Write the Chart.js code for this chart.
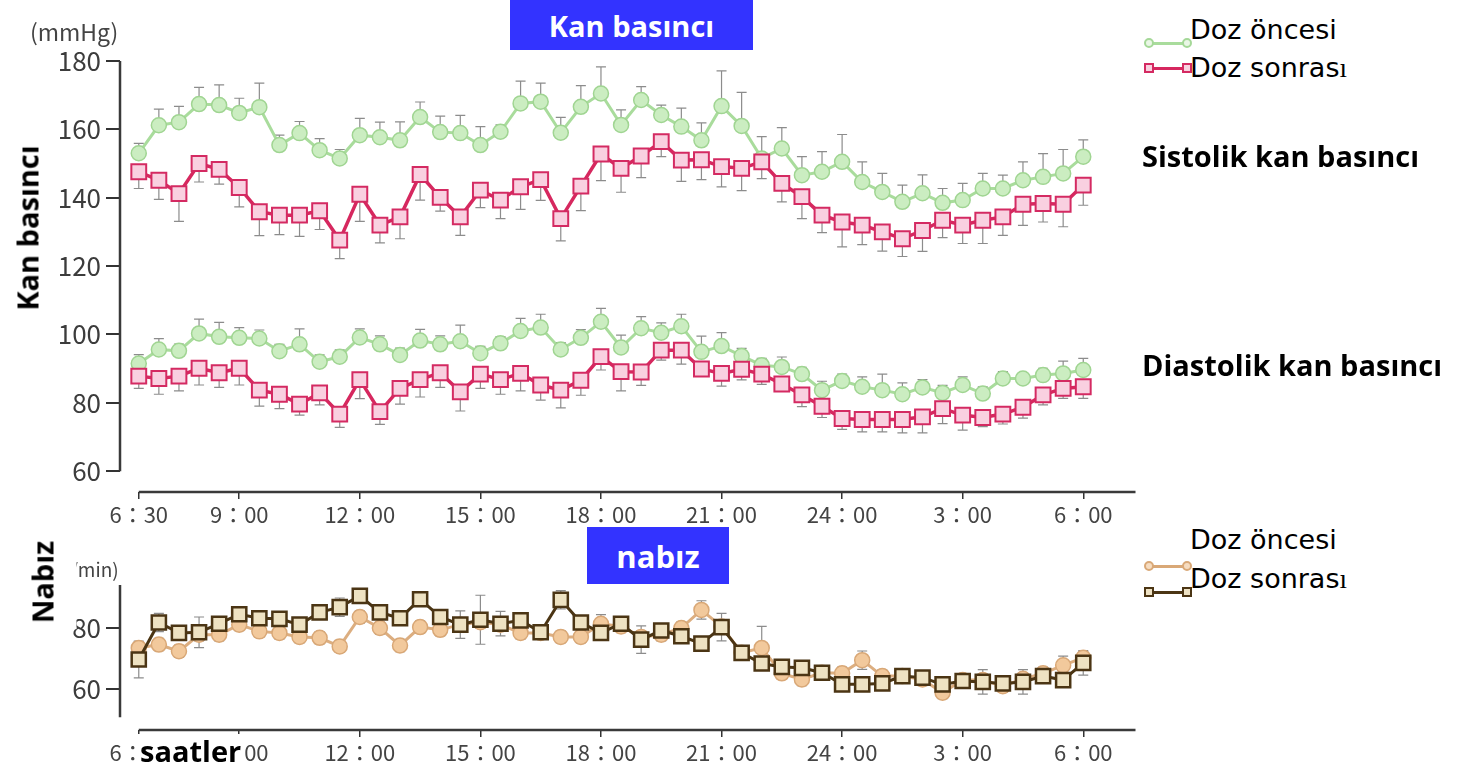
<!DOCTYPE html>
<html>
<head>
<meta charset="utf-8">
<script src="https://cdn.jsdelivr.net/npm/chart.js@4.4.1/dist/chart.umd.min.js"></script>
<style>
  body { margin: 0; width: 1457px; height: 768px; background: #fff; position: relative; overflow: hidden; }
  canvas { position: absolute; left: 0; }
  #bp { top: 0; }
  #pulse { top: 540px; }
  .box { position: absolute; background: #3333ff; color: #fff; font-family: 'Open Sans', sans-serif; font-weight: bold;
         display: flex; align-items: center; justify-content: center; }
  .lbl { position: absolute; white-space: nowrap; line-height: 1; }
  .bold { font-family: 'Open Sans', sans-serif; font-weight: bold; color: #000; }
  .unit { font-family: 'Noto Sans CJK JP', sans-serif; color: #444; }
  .leg { font-family: 'DejaVu Sans', sans-serif; font-size: 27px; color: #000; }
  .serif { font-family: 'Liberation Serif', serif; }
  .sym { position: absolute; height: 3px; }
  .sym i { position: absolute; top: -4px; width: 10px; height: 10px; box-sizing: border-box; }
</style>
</head>
<body>
<canvas id="bp" width="1148" height="530"></canvas>
<canvas id="pulse" width="1148" height="228"></canvas>

<div class="box" style="left:510px;top:0;width:243px;height:50px;font-size:29px;">Kan basıncı</div>
<div class="box" style="left:587px;top:527px;width:142px;height:57px;font-size:31px;">nabız</div>

<div class="lbl unit" style="left:30px;top:20px;font-size:23px;">(mmHg)</div>
<div class="lbl unit" style="left:64px;top:559px;font-size:19px;">(/min)</div>

<div class="lbl bold" style="left:27px;top:228px;font-size:29px;transform:translate(-50%,-50%) rotate(-90deg);">Kan basıncı</div>
<div class="lbl bold" style="left:42px;top:582px;font-size:29px;background:#fff;padding:20px 6px;transform:translate(-50%,-50%) rotate(-90deg);">Nabız</div>
<div class="lbl bold" style="left:138px;top:734px;font-size:29px;background:#fff;padding:2px 3px 4px 2px;">saatler</div>

<div class="lbl bold" style="left:1142px;top:141px;font-size:29px;">Sistolik kan basıncı</div>
<div class="lbl bold" style="left:1142px;top:350px;font-size:29px;">Diastolik kan basıncı</div>

<div class="lbl leg" style="left:1190px;top:16px;">Doz öncesi</div>
<div class="lbl leg" style="left:1190px;top:54px;">Doz sonras<span class="serif">ı</span></div>
<div class="lbl leg" style="left:1190px;top:526px;">Doz öncesi</div>
<div class="lbl leg" style="left:1190px;top:565px;">Doz sonras<span class="serif">ı</span></div>

<div class="sym" style="left:1148px;top:42px;width:40px;background:#a9dc9c;">
  <i style="left:-4px;border-radius:50%;background:#eaf7e6;border:2px solid #a5d898;"></i>
  <i style="right:-4px;border-radius:50%;background:#eaf7e6;border:2px solid #a5d898;"></i>
</div>
<div class="sym" style="left:1148px;top:67px;width:40px;background:#d6285f;">
  <i style="left:-4px;background:#f8d2e0;border:2px solid #d42a62;"></i>
  <i style="right:-4px;background:#f8d2e0;border:2px solid #d42a62;"></i>
</div>
<div class="sym" style="left:1148px;top:565px;width:40px;background:#d9a877;">
  <i style="left:-4px;border-radius:50%;background:#f6dcc0;border:2px solid #d9a877;"></i>
  <i style="right:-4px;border-radius:50%;background:#f6dcc0;border:2px solid #d9a877;"></i>
</div>
<div class="sym" style="left:1148px;top:591px;width:40px;background:#4b3514;">
  <i style="left:-4px;background:#eee2c4;border:2px solid #4b3514;"></i>
  <i style="right:-4px;background:#eee2c4;border:2px solid #4b3514;"></i>
</div>

<script>
// zaman noktaları (30 dakikada bir)
const times = ['6：30', '7：00', '7：30', '8：00', '8：30', '9：00', '9：30', '10：00', '10：30', '11：00', '11：30', '12：00',
  '12：30', '13：00', '13：30', '14：00', '14：30', '15：00', '15：30', '16：00', '16：30', '17：00', '17：30', '18：00',
  '18：30', '19：00', '19：30', '20：00', '20：30', '21：00', '21：30', '22：00', '22：30', '23：00', '23：30', '24：00',
  '0：30', '1：00', '1：30', '2：00', '2：30', '3：00', '3：30', '4：00', '4：30', '5：00', '5：30', '6：00'];
const tickIdx = [0, 5, 11, 17, 23, 29, 35, 41, 47];
const bpTicks = [60, 80, 100, 120, 140, 160, 180];
const pulseTicks = [60, 80];

// sistolik
const sysBefore = [153, 161.2, 162.1, 167.4, 167.1, 164.8, 166.5, 155.4, 158.9, 153.9, 151.5, 158.3, 157.7, 156.8, 163.6, 159.2,
  158.9, 155.4, 159.3, 167.6, 168.1, 159.0, 166.6, 170.5, 161.3, 168.6, 164.2, 160.8, 156.8, 166.8, 161.0, 151.5,
  154.4, 146.6, 147.6, 150.5, 144.6, 141.7, 138.8, 141.3, 138.5, 139.3, 142.7, 142.7, 145.1, 146.1, 147.1, 152.0];
const sysBeforeErr = [2.9, 4.7, 4.6, 4.9, 5.9, 4.3, 7.0, 2.9, 3.4, 3.4, 2.6, 4.9, 4.4, 5.4, 4.4, 4.7, 5.2, 5.4, 2.0, 6.5, 5.4, 4.5,
  6.2, 7.8, 4.4, 3.9, 2.9, 5.4, 5.1, 10.3, 9.8, 6.4, 6.1, 5.4, 5.9, 8.0, 5.9, 5.4, 4.9, 5.4, 4.2, 4.9, 4.4, 3.9, 5.4, 6.8, 7.0, 4.9];
const sysAfter = [147.6, 145.1, 141.2, 150.0, 148.3, 143.0, 135.9, 134.9, 134.9, 136.2, 127.6, 141.0, 132.0, 134.4, 146.8, 140.1,
  134.4, 142.2, 139.3, 143.2, 145.3, 133.9, 143.4, 152.8, 148.6, 152.2, 156.4, 151.0, 151.1, 149.1, 148.6, 150.5,
  144.2, 140.3, 134.9, 132.9, 132.0, 130.0, 128.0, 130.4, 133.4, 132.0, 133.4, 134.4, 138.1, 138.3, 138.1, 143.7];
const sysAfterErr = [4.9, 5.6, 8.1, 5.4, 4.3, 5.7, 7.0, 5.7, 6.2, 5.5, 5.4, 7.9, 5.2, 6.4, 7.5, 4.0, 5.4, 5.1, 5.4, 6.6, 6.1, 6.5,
  7.2, 7.8, 7.0, 6.3, 4.4, 6.2, 5.8, 5.9, 6.5, 4.9, 5.4, 6.4, 5.1, 7.3, 5.7, 5.6, 5.2, 6.1, 5.1, 5.4, 6.8, 5.4, 6.2, 5.4, 6.6, 5.9];

// diastolik
const diaBefore = [91.5, 95.6, 95.2, 100.3, 99.3, 99.0, 98.8, 95.1, 97.1, 92.0, 93.5, 99.1, 97.1, 94.0, 98.2, 97.1, 98.0, 94.5,
  97.4, 101.0, 102.0, 95.6, 99.0, 103.7, 96.2, 101.8, 100.5, 102.4, 94.9, 96.6, 93.7, 91.0, 90.5, 88.4, 83.7, 86.4,
  84.7, 83.7, 82.5, 84.5, 82.9, 85.2, 82.7, 87.1, 87.1, 88.1, 88.6, 89.6];
const diaBeforeErr = [2.6, 3.2, 2.0, 4.2, 4.2, 3.0, 2.5, 2.0, 4.5, 2.0, 2.0, 2.5, 2.5, 2.0, 3.3, 2.5, 4.7, 2.0, 2.0, 3.7, 3.9, 2.0,
  2.4, 3.9, 3.6, 3.4, 2.9, 3.5, 4.6, 3.9, 2.2, 2.0, 2.9, 2.0, 2.6, 2.0, 2.9, 4.7, 3.3, 2.3, 2.2, 2.4, 2.0, 2.0, 1.7, 2.0, 3.6, 3.4];
const diaAfter = [87.8, 87.1, 87.8, 90.1, 88.8, 90.1, 83.7, 82.5, 79.6, 82.9, 76.7, 86.8, 77.4, 84.2, 86.8, 88.8, 83.2, 88.4,
  86.8, 88.6, 85.2, 83.7, 86.6, 93.5, 89.1, 89.0, 95.4, 95.4, 89.9, 88.6, 89.8, 88.4, 85.5, 82.3, 79.0, 75.4,
  75.1, 75.1, 75.1, 75.9, 78.3, 76.4, 75.7, 76.7, 78.7, 82.3, 84.2, 84.7];
const diaAfterErr = [3.6, 4.6, 4.3, 4.9, 4.3, 4.9, 4.7, 4.2, 3.2, 3.5, 3.9, 5.6, 3.7, 4.6, 5.1, 4.3, 5.6, 4.2, 4.3, 5.1, 4.4, 5.2,
  4.4, 3.9, 5.6, 3.9, 2.9, 4.1, 2.2, 3.7, 3.1, 3.0, 1.8, 3.4, 3.3, 3.2, 3.6, 3.6, 3.9, 4.7, 4.4, 4.4, 2.7, 2.9, 3.2, 2.9, 2.9, 3.4];

// nabız
const pulseBefore = [73.5, 74.6, 72.4, 77.8, 77.8, 81.1, 78.9, 78.4, 77.1, 76.8, 74.0, 83.6, 80.0, 74.3, 80.3, 79.4, 81.1, 81.9,
  81.1, 78.4, 78.4, 77.1, 77.1, 81.4, 80.5, 77.1, 77.8, 80.0, 85.9, 80.5, 71.9, 73.5, 65.2, 63.2, 65.4, 65.2,
  69.5, 64.3, 64.3, 63.2, 58.9, 63.0, 63.0, 61.0, 63.4, 65.2, 67.8, 70.3];
const pulseBeforeErr = [2, 2, 2, 2, 2, 2, 2, 2, 2, 2, 2, 2, 2, 2, 2, 2, 2, 2, 2, 2, 2, 2, 2, 3, 2, 2, 2, 2, 3, 2,
  2, 7, 2, 2, 2, 2, 3, 2, 2, 2, 2, 2, 2, 2, 2, 2, 3, 2];
const pulseAfter = [69.7, 81.8, 78.4, 78.6, 81.4, 84.5, 83.2, 83.0, 81.1, 85.1, 86.8, 90.5, 85.1, 83.2, 89.4, 83.6, 81.1, 82.7,
  81.4, 82.5, 78.6, 89.2, 81.8, 78.4, 81.4, 76.2, 79.2, 77.3, 74.9, 80.3, 71.9, 68.4, 67.3, 67.0, 65.4, 61.6,
  61.6, 61.9, 64.3, 63.8, 61.6, 62.7, 62.4, 61.9, 62.4, 64.3, 63.0, 68.6];
const pulseAfterErr = [6, 3, 2, 5, 2, 2, 2, 2, 2, 2, 3, 2, 2, 2, 2, 2, 4.5, 8, 4, 2, 2, 3, 2, 2, 2, 4.5, 2, 2, 2, 4.5,
  2, 2, 2, 2, 2, 2, 2, 2, 2, 2, 2, 2, 4, 2, 4, 2, 2, 4];

const pts = arr => arr.map((v, i) => ({ x: i, y: v }));

// hata çubukları
const errorBars = {
  id: 'errorBars',
  beforeDatasetsDraw(chart) {
    const { ctx, scales: { x, y } } = chart;
    ctx.save();
    ctx.strokeStyle = '#8c8c8c';
    ctx.lineWidth = 1.2;
    chart.data.datasets.forEach(ds => {
      if (!ds.err) return;
      ds.data.forEach((p, i) => {
        const e = ds.err[i];
        const lo = ds.errDir === 'up' ? p.y : p.y - e;
        const hi = ds.errDir === 'down' ? p.y : p.y + e;
        const px = x.getPixelForValue(p.x);
        const y1 = y.getPixelForValue(lo), y2 = y.getPixelForValue(hi);
        ctx.beginPath();
        ctx.moveTo(px, y1); ctx.lineTo(px, y2);
        if (ds.errDir !== 'down') { ctx.moveTo(px - 5, y2); ctx.lineTo(px + 5, y2); }
        if (ds.errDir !== 'up') { ctx.moveTo(px - 5, y1); ctx.lineTo(px + 5, y1); }
        ctx.stroke();
      });
    });
    ctx.restore();
  }
};

// eksen çizgileri (ayrık eksenler)
const axisLines = {
  id: 'axisLines',
  afterDraw(chart, args, opts) {
    const { ctx, chartArea, scales: { x, y } } = chart;
    ctx.save();
    ctx.strokeStyle = '#3a3a3a';
    ctx.lineWidth = 2.5;
    ctx.beginPath();
    ctx.moveTo(chartArea.left, y.getPixelForValue(opts.yTop));
    ctx.lineTo(chartArea.left, y.getPixelForValue(opts.yBottom));
    ctx.moveTo(x.getPixelForValue(0), chartArea.bottom);
    ctx.lineTo(chartArea.right, chartArea.bottom);
    ctx.stroke();
    ctx.restore();
  }
};

const tickFont = { family: "'Noto Sans CJK JP', sans-serif", size: 22 };

function xScale() {
  return {
    type: 'linear', min: -0.934, max: 49.6,
    border: { display: false },
    grid: { drawOnChartArea: false, drawTicks: true, tickLength: 7, color: '#333', lineWidth: 1.5 },
    ticks: { autoSkip: false, maxRotation: 0, padding: 2, color: '#444', font: tickFont, callback: v => times[v] },
    afterBuildTicks: s => { s.ticks = tickIdx.map(v => ({ value: v })); },
    afterFit: s => { s.height = 38; }
  };
}

function yScale(min, max, ticks) {
  return {
    type: 'linear', min: min, max: max,
    border: { display: false },
    grid: { drawOnChartArea: false, drawTicks: true, tickLength: 14, color: '#333', lineWidth: 2 },
    ticks: { padding: 5, color: '#3c3c3c', font: { family: "'Noto Sans CJK JP', sans-serif", size: 26 } },
    afterBuildTicks: s => { s.ticks = ticks.map(v => ({ value: v })); },
    afterFit: s => { s.width = 120; }
  };
}

function series(data, err, dir, kind) {
  const styles = {
    green: { line: '#a9dc9c', fill: '#cbedc1', border: '#a0d592', shape: 'circle', r: 7.5, bw: 1.5, lw: 3 },
    red: { line: '#d6285f', fill: '#f9d0e0', border: '#d42a62', shape: 'rect', r: 10.5, bw: 2, lw: 3.5 },
    tan: { line: '#dcae80', fill: '#f2c99c', border: '#d9a877', shape: 'circle', r: 7.5, bw: 1.5, lw: 3 },
    brown: { line: '#4b3514', fill: '#eee2c2', border: '#4b3514', shape: 'rect', r: 10, bw: 2.5, lw: 3 }
  }[kind];
  return {
    data: pts(data), err: err, errDir: dir,
    borderColor: styles.line, borderWidth: styles.lw,
    pointStyle: styles.shape, pointRadius: styles.r,
    pointBackgroundColor: styles.fill, pointBorderColor: styles.border, pointBorderWidth: styles.bw,
    tension: 0
  };
}

const common = {
  responsive: false, animation: false, devicePixelRatio: 1, events: [],
  plugins: { legend: { display: false }, tooltip: { enabled: false } }
};

new Chart(document.getElementById('bp'), {
  type: 'line',
  data: {
    datasets: [
      series(sysAfter, sysAfterErr, 'down', 'red'),
      series(diaAfter, diaAfterErr, 'down', 'red'),
      series(sysBefore, sysBeforeErr, 'up', 'green'),
      series(diaBefore, diaBeforeErr, 'up', 'green')
    ]
  },
  options: {
    ...common,
    layout: { padding: { top: 61, left: 0, right: 0, bottom: 0 } },
    plugins: { ...common.plugins, axisLines: { yTop: 180, yBottom: 60 } },
    scales: { x: xScale(), y: yScale(53.9, 180, bpTicks) }
  },
  plugins: [errorBars, axisLines]
});

new Chart(document.getElementById('pulse'), {
  type: 'line',
  data: {
    datasets: [
      series(pulseAfter, pulseAfterErr, 'both', 'brown'),
      series(pulseBefore, pulseBeforeErr, 'both', 'tan')
    ]
  },
  options: {
    ...common,
    layout: { padding: { top: 45, left: 0, right: 0, bottom: 0 } },
    plugins: { ...common.plugins, axisLines: { yTop: 94, yBottom: 50.9 } },
    scales: { x: xScale(), y: yScale(46.7, 94.04, pulseTicks) }
  },
  plugins: [errorBars, axisLines]
});
</script>
</body>
</html>
